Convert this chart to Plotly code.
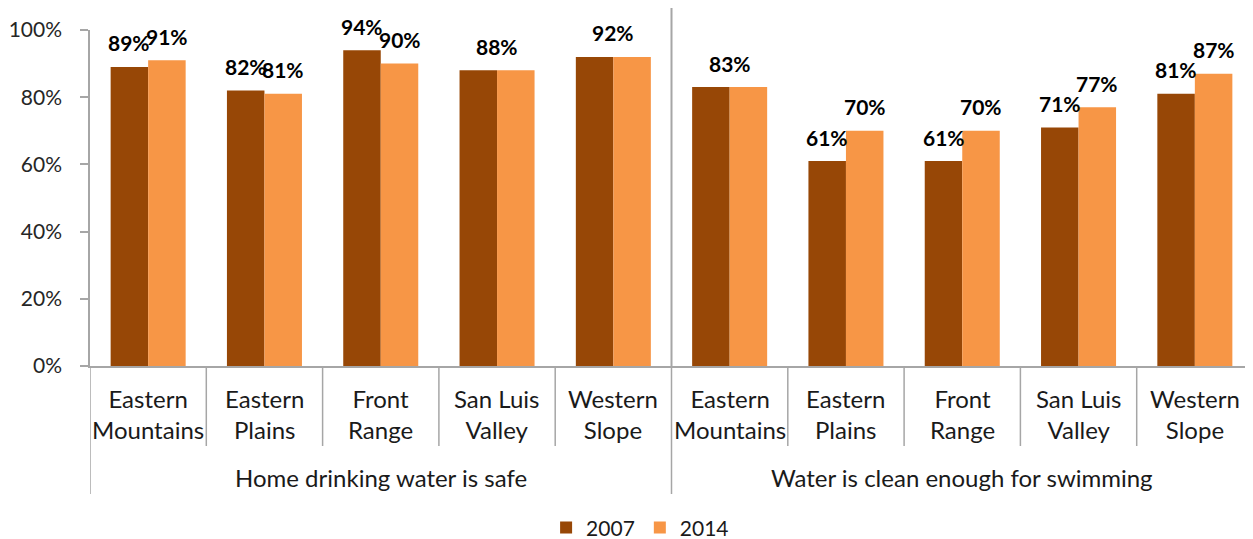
import plotly.graph_objects as go

groups = ["Home drinking water is safe", "Water is clean enough for swimming"]
regions = ["Eastern<br>Mountains", "Eastern<br>Plains", "Front<br>Range", "San Luis<br>Valley", "Western<br>Slope"]
series_names = ["2007", "2014"]
values_2007 = [89, 82, 94, 88, 92, 83, 61, 61, 71, 81]
values_2014 = [91, 81, 90, 88, 92, 83, 70, 70, 77, 87]
y_ticks = [0, 20, 40, 60, 80, 100]

C07 = "#974706"
C14 = "#F79646"
GRAY = "#A6A6A6"
FONT = "Lato, Carlito, Calibri, sans-serif"

n = len(values_2007)
xs = [i + 0.5 for i in range(n)]
bargap = 0.355
bw = (1 - bargap) / 2

fig = go.Figure()
fig.add_trace(go.Bar(x=xs, y=[v / 100 for v in values_2007], name=series_names[0],
                     marker=dict(color=C07, line=dict(width=0)), width=bw, offset=-bw))
fig.add_trace(go.Bar(x=xs, y=[v / 100 for v in values_2014], name=series_names[1],
                     marker=dict(color=C14, line=dict(width=0)), width=bw, offset=0))

LBL = dict(family=FONT, size=21, color="#000000", weight="bold")
ann = []
for i in range(n):
    a, b = values_2007[i], values_2014[i]
    if a == b:
        ann.append(dict(x=xs[i], y=a / 100, text=f"{a}%", xref="x", yref="y", showarrow=False,
                        yanchor="middle", yshift=24, font=LBL))
    else:
        ann.append(dict(x=xs[i] - bw / 2, y=a / 100, text=f"{a}%", xref="x", yref="y", showarrow=False,
                        yanchor="middle", yshift=24, font=LBL))
        ann.append(dict(x=xs[i] + bw / 2, y=b / 100, text=f"{b}%", xref="x", yref="y", showarrow=False,
                        yanchor="middle", yshift=24, font=LBL))

CAT = dict(family=FONT, size=24, color="#1a1a1a")
per_group = len(regions)
for gi, g in enumerate(groups):
    for ri, r in enumerate(regions):
        idx = gi * per_group + ri
        ann.append(dict(x=xs[idx], y=0, xref="x", yref="paper", text=r, showarrow=False,
                        yanchor="middle", yshift=-48, font=CAT))
    ann.append(dict(x=gi * per_group + per_group / 2, y=0, xref="x", yref="paper", text=g, showarrow=False,
                    yanchor="middle", yshift=-111, font=CAT))

plot_h = 336.0
shapes = []
for k in range(n):
    if k % per_group == 0:
        y1 = -(494 - 366) / plot_h
    else:
        y1 = -(446 - 366) / plot_h
    shapes.append(dict(type="line", xref="x", yref="paper", x0=k, x1=k, y0=0, y1=y1,
                       line=dict(color=GRAY, width=1.5)))
shapes.append(dict(type="line", xref="x", yref="paper", x0=per_group, x1=per_group, y0=0,
                   y1=(366 - 7) / plot_h, line=dict(color=GRAY, width=2)))

# page body has an 8px margin; figure sized/offset to compensate
fig.update_layout(
    width=1245, height=531,
    margin=dict(l=82, r=0, t=22, b=173, autoexpand=False),
    paper_bgcolor="white", plot_bgcolor="white",
    barmode="overlay",
    showlegend=True,
    legend=dict(orientation="h", x=0.473, xanchor="center", y=-0.482, yanchor="middle",
                font=dict(family=FONT, size=21, color="#1a1a1a"), traceorder="normal"),
    xaxis=dict(range=[0, n], showticklabels=False, ticks="", showgrid=False, zeroline=False,
               showline=True, linecolor=GRAY, linewidth=1.5, fixedrange=True, automargin=False),
    yaxis=dict(range=[0, 1], tickvals=[t / 100 for t in y_ticks], ticktext=[f"{t}%" for t in y_ticks],
               showgrid=False, zeroline=False, showline=True, linecolor=GRAY, linewidth=1.5,
               ticks="outside", ticklen=8, tickcolor=GRAY, tickwidth=1.5, ticklabelstandoff=14,
               automargin=False, tickfont=dict(family=FONT, size=21, color="#262626")),
    annotations=ann, shapes=shapes,
    font=dict(family=FONT),
)

fig.write_html("out.html")
